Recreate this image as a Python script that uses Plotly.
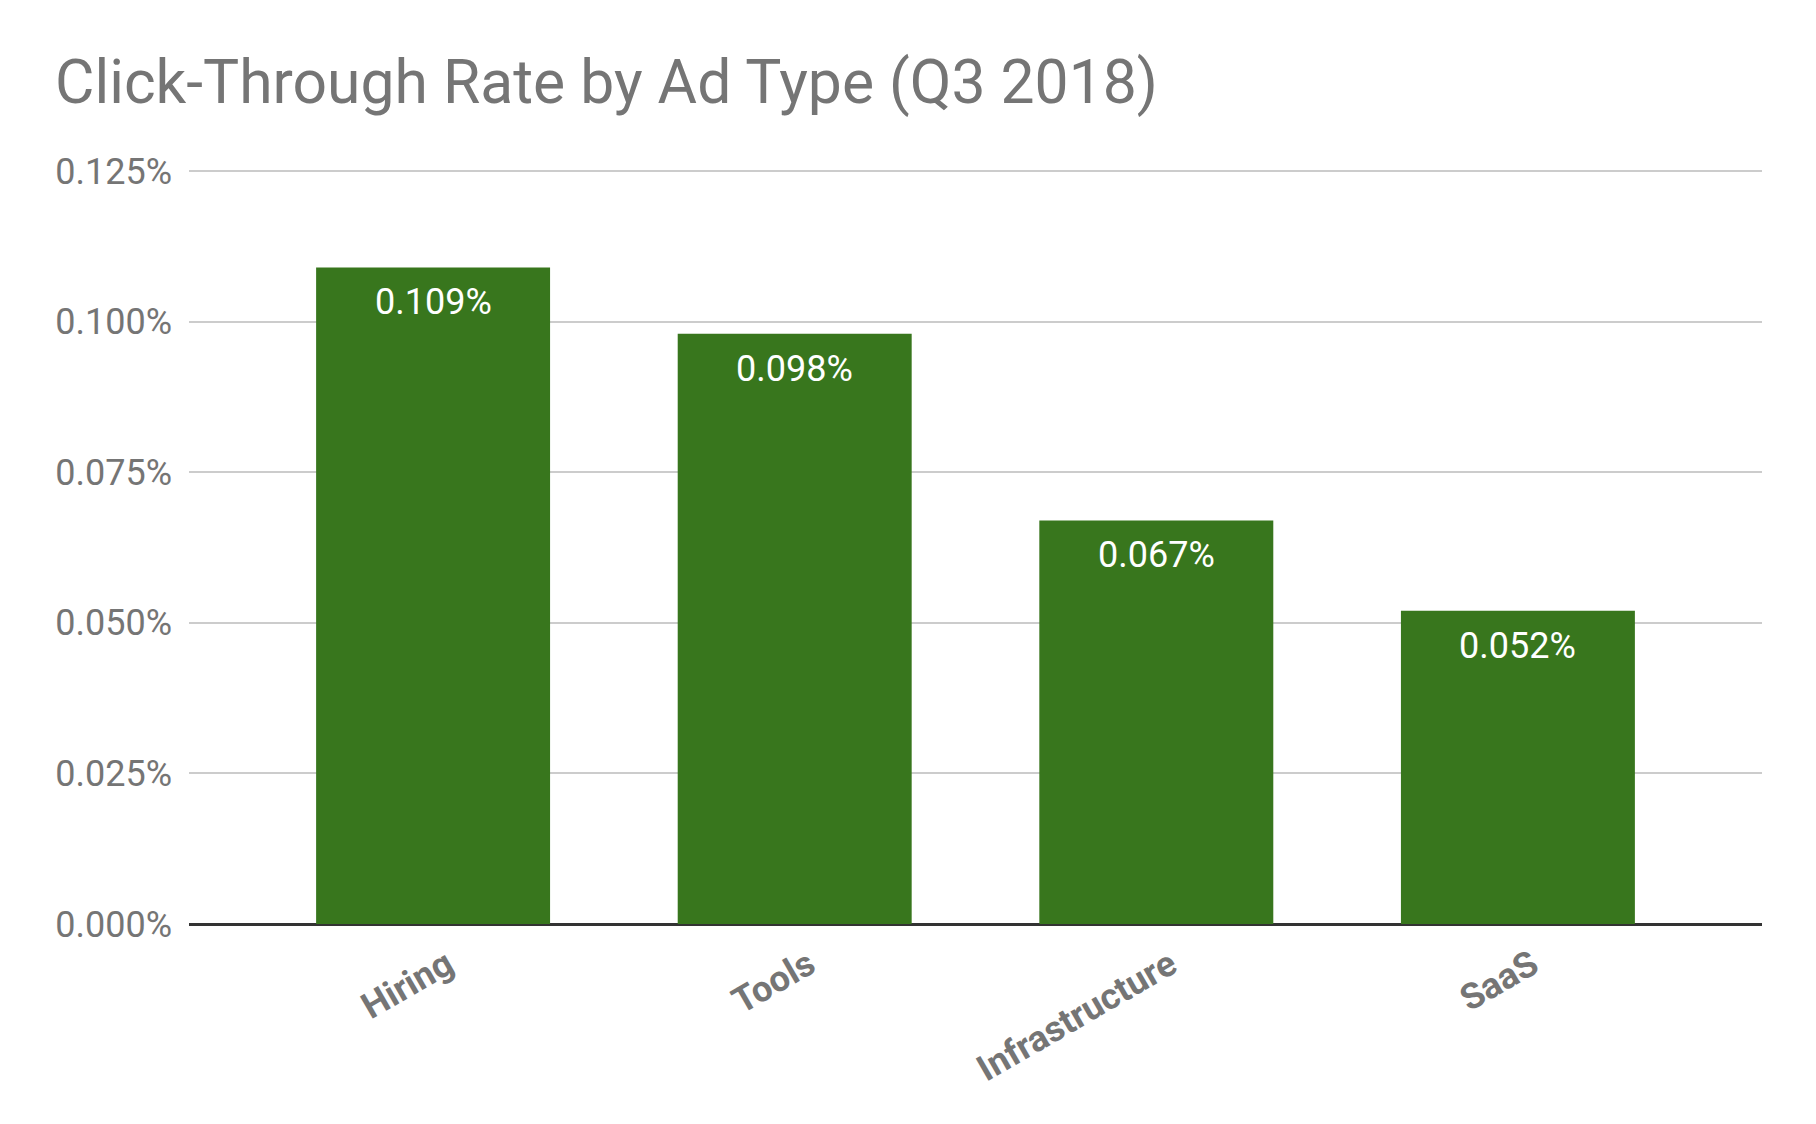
import plotly.graph_objects as go

# Click-through rate per ad type, Q3 2018 (fractions, shown as %)
ad_types = ["Hiring", "Tools", "Infrastructure", "SaaS"]
ctr = [0.00109, 0.00098, 0.00067, 0.00052]
y_ticks = [0, 0.00025, 0.0005, 0.00075, 0.001, 0.00125]

GREEN = "#38761d"
GREY = "#757575"

fig = go.Figure(
    go.Bar(
        x=ad_types,
        y=ctr,
        marker=dict(color=GREEN, line=dict(width=0)),
        hoverinfo="x+y",
    )
)

# value labels sit just inside the top of each bar
for cat, v in zip(ad_types, ctr):
    fig.add_annotation(
        x=cat, y=v, text=f"{v:.3%}",
        showarrow=False, yanchor="top", yshift=-12,
        font=dict(family="Roboto", size=36, color="white"),
    )

fig.update_layout(
    width=1816,
    height=1124,
    paper_bgcolor="white",
    plot_bgcolor="white",
    font=dict(family="Roboto", color=GREY, size=36),
    title=dict(
        text="Click-Through Rate by Ad Type (Q3 2018)",
        x=55 / 1816,
        xref="container",
        xanchor="left",
        y=1 - 82 / 1124,
        yanchor="middle",
        font=dict(family="Roboto", size=60.6, color=GREY),
    ),
    # top margin leaves a little headroom so the 0.125% gridline is drawn
    margin=dict(l=189, r=54, t=159, b=200),
    bargap=0.353,
    showlegend=False,
    xaxis=dict(
        type="category",
        range=[-0.675, 3.675],
        tickangle=-30,
        tickfont=dict(family="Roboto", size=36, color=GREY, weight="bold"),
        ticklabelstandoff=12,
        ticklabelshift=14,
        showgrid=False,
        showline=False,
        ticks="",
        fixedrange=True,
    ),
    yaxis=dict(
        range=[0, 0.00127],
        tickvals=y_ticks,
        tickformat=".3%",
        tickfont=dict(family="Roboto", size=36, color=GREY),
        showgrid=True,
        gridcolor="#cccccc",
        gridwidth=2,
        zeroline=True,
        zerolinecolor="#333333",
        zerolinewidth=3,
        ticks="",
        ticklabelstandoff=16,
        fixedrange=True,
    ),
)

fig.write_html(
    "out.html",
    config={"displayModeBar": False},
    post_script="document.body.style.margin='0';",
)
